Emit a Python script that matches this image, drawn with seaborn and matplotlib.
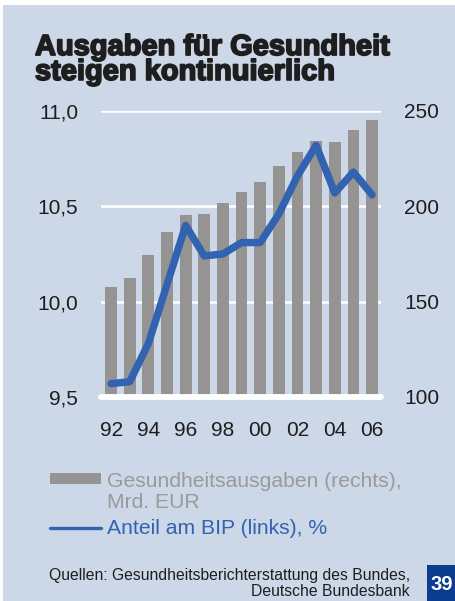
import matplotlib
matplotlib.use("Agg")
import matplotlib.pyplot as plt
import matplotlib.patheffects as pe
from matplotlib.patches import Rectangle
from matplotlib.lines import Line2D
import seaborn as sns
import pandas as pd

# --- data -------------------------------------------------------------
years = ["92", "93", "94", "95", "96", "97", "98", "99",
         "00", "01", "02", "03", "04", "05", "06"]
# health expenditure, bn EUR (right axis)
spending = [157.7, 162.5, 174.7, 186.8, 195.3, 196.2, 201.6, 207.7,
            212.8, 221.2, 228.6, 234.2, 233.8, 239.8, 245.4]
# share of GDP, % (left axis)
gdp_share = [9.57, 9.58, 9.78, 10.09, 10.40, 10.24, 10.25, 10.31,
             10.31, 10.46, 10.66, 10.82, 10.57, 10.68, 10.56]
left_ticks = [9.5, 10.0, 10.5, 11.0]
right_ticks = [100, 150, 200, 250]
xtick_labels = ["92", "94", "96", "98", "00", "02", "04", "06"]

title = "Ausgaben für Gesundheit\nsteigen kontinuierlich"
legend_bar = "Gesundheitsausgaben (rechts),\nMrd. EUR"
legend_line = "Anteil am BIP (links), %"
source = ("Quellen: Gesundheitsberichterstattung des Bundes,\n"
          "Deutsche Bundesbank")
page_no = "39"

df = pd.DataFrame({"year": years, "idx": range(len(years)),
                   "spending": spending, "share": gdp_share})

# --- style ------------------------------------------------------------
BG = "#CCD7E8"
BAR = "#969492"
LINE = "#3262B0"
TEXT = "#1E1E1E"
GREYTXT = "#9A9A9A"
NAVY = "#0B3C8E"

sns.set_style("white")
plt.rcParams["font.family"] = ["Liberation Sans", "DejaVu Sans"]

W, H = 456, 601
fig = plt.figure(figsize=(W / 100, H / 100), dpi=100)
fig.patch.set_facecolor("white")


def fx(px):
    return px / W


def fy(py):
    return 1 - py / H


# blue panel
fig.add_artist(Rectangle((fx(3), 0), 1 - fx(3), fy(5), transform=fig.transFigure,
                         facecolor=BG, edgecolor="none", zorder=-10))

# --- axes -------------------------------------------------------------
ax_l, ax_r, ax_t, ax_b = 101, 381, 111, 397
ax = fig.add_axes([fx(ax_l), fy(ax_b), fx(ax_r - ax_l), (ax_b - ax_t) / H])
ax.set_facecolor("none")
ax2 = ax.twinx()
ax2.set_facecolor("none")

# bars: spending on the right-hand scale
sns.barplot(data=df, x="year", y="spending", color=BAR, width=0.63,
            saturation=1, ax=ax, zorder=2)
for p in ax.patches:
    p.set_edgecolor("none")

ax.set_xlim(-0.54, 14.48)
ax.set_ylim(right_ticks[0], right_ticks[-1])
for v in right_ticks[1:]:
    ax.axhline(v, color="white", lw=1.8, zorder=1)
ax.axhline(right_ticks[0], color="white", lw=4.2, zorder=5, clip_on=False)

ax.set_yticks(right_ticks)
ax.set_yticklabels([str(v) for v in right_ticks])
ax.yaxis.tick_right()
ax.set_xticks(range(0, len(years), 2))
ax.set_xticklabels(xtick_labels)
ax.tick_params(axis="y", length=0, pad=16.5, labelsize=15, labelcolor=TEXT)
ax.tick_params(axis="x", length=0, pad=17, labelsize=15, labelcolor=TEXT)
ax.set_xlabel("")
ax.set_ylabel("")
for s in ax.spines.values():
    s.set_visible(False)

# line: GDP share on the left-hand scale
sns.lineplot(data=df, x="idx", y="share", color=LINE, lw=5.3, ax=ax2,
             solid_capstyle="round", solid_joinstyle="round", zorder=6)
ax2.set_ylim(left_ticks[0], left_ticks[-1])
ax2.set_xlim(-0.54, 14.48)
ax2.set_yticks(left_ticks)
ax2.set_yticklabels([f"{v:.1f}".replace(".", ",") for v in left_ticks])
ax2.yaxis.tick_left()
ax2.tick_params(axis="y", length=0, pad=16.5, labelsize=15, labelcolor=TEXT)
ax2.tick_params(axis="x", bottom=False, labelbottom=False)
ax2.set_xlabel("")
ax2.set_ylabel("")
for s in ax2.spines.values():
    s.set_visible(False)

# --- title ------------------------------------------------------------
heavy = [pe.withStroke(linewidth=1.3, foreground=TEXT)]
fig.text(fx(35), fy(33), title, fontsize=20.9, fontweight="bold",
         color=TEXT, va="top", ha="left", linespacing=0.86,
         path_effects=heavy)

# --- legend -----------------------------------------------------------
fig.add_artist(Rectangle((fx(50), fy(484)), fx(51), 11 / H,
                         transform=fig.transFigure, facecolor=BAR,
                         edgecolor="none"))
fig.add_artist(Line2D([fx(50), fx(101)], [fy(528), fy(528)],
                      transform=fig.transFigure, color=LINE, lw=2.4))
fig.text(fx(107), fy(472), legend_bar, fontsize=15.2, color=GREYTXT,
         va="top", ha="left", linespacing=1.1)
fig.text(fx(107), fy(534), legend_line, fontsize=15.2, color=LINE,
         va="baseline", ha="left")

# --- source and page number -------------------------------------------
fig.text(fx(410), fy(568), source, fontsize=11.3, color=TEXT,
         va="top", ha="right", ma="right", linespacing=1.05)
fig.add_artist(Rectangle((fx(427), 0), 1 - fx(427), 36 / H,
                         transform=fig.transFigure, facecolor=NAVY,
                         edgecolor="none"))
fig.text(fx(441.5), fy(585), page_no, fontsize=14.5, fontweight="bold",
         color="white", va="center", ha="center")

fig.savefig("out.png", dpi=100, facecolor=fig.get_facecolor())
